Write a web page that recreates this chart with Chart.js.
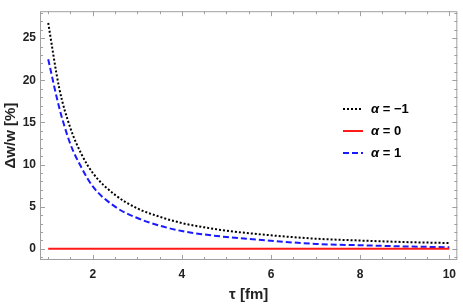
<!DOCTYPE html>
<html>
<head>
<meta charset="utf-8">
<script src="https://cdn.jsdelivr.net/npm/chart.js@4"></script>
<style>
  body { margin: 0; background: #fff; }
  #chart { display: block; }
</style>
</head>
<body>
<canvas id="chart" width="463" height="305"></canvas>
<script>
// tau values and the relative width change for each alpha
const TAU = [1, 1.25, 1.5, 1.75, 2, 2.5, 3, 3.5, 4, 4.5, 5, 6, 7, 8, 9, 10];
const ALPHA_M1 = [26.8, 19.0, 14.3, 11.2, 9.0, 6.4, 4.8, 3.8, 3.05, 2.55, 2.15, 1.6, 1.2, 0.98, 0.8, 0.68];
const ALPHA_0 = [0, 0, 0, 0, 0, 0, 0, 0, 0, 0, 0, 0, 0, 0, 0, 0];
const ALPHA_P1 = [22.5, 16.7, 12.4, 9.6, 7.4, 5.0, 3.65, 2.75, 2.1, 1.7, 1.4, 0.95, 0.58, 0.42, 0.28, 0.18];
const LABELS = ["α = −1", "α = 0", "α = 1"];

const X_TICKS = [2, 4, 6, 8, 10];
const Y_TICKS = [0, 5, 10, 15, 20, 25];

function pts(ys) {
  return TAU.map((t, i) => ({ x: t, y: ys[i] }));
}

// frame with inward ticks on all four sides (Mathematica style)
const framePlugin = {
  id: "frame",
  afterDatasetsDraw(chart) {
    const { ctx, chartArea: a, scales } = chart;
    const xs = scales.x, ys = scales.y;
    ctx.save();
    ctx.strokeStyle = "#a0a0a0";
    ctx.lineWidth = 1;
    ctx.strokeRect(a.left + 0.5, a.top + 0.5, a.right - a.left - 1, a.bottom - a.top - 1);
    ctx.beginPath();
    for (let v = 1; v <= 10.001; v += 0.5) {
      const px = Math.round(xs.getPixelForValue(v)) + 0.5;
      const len = X_TICKS.includes(v) ? 5 : 3;
      ctx.moveTo(px, a.bottom); ctx.lineTo(px, a.bottom - len);
      ctx.moveTo(px, a.top); ctx.lineTo(px, a.top + len);
    }
    for (let v = -1; v <= 28; v += 1) {
      const py = Math.round(ys.getPixelForValue(v)) + 0.5;
      const len = Y_TICKS.includes(v) ? 5 : 3;
      ctx.moveTo(a.left, py); ctx.lineTo(a.left + len, py);
      ctx.moveTo(a.right, py); ctx.lineTo(a.right - len, py);
    }
    ctx.stroke();
    ctx.restore();
  }
};

// legend drawn inside the plot
const legendPlugin = {
  id: "innerLegend",
  afterDraw(chart) {
    const ctx = chart.ctx;
    ctx.save();
    chart.data.datasets.forEach((ds, i) => {
      const y = 109 + i * 22;
      ctx.strokeStyle = ds.borderColor;
      ctx.lineWidth = ds.borderWidth;
      ctx.setLineDash(ds.borderDash || []);
      ctx.beginPath();
      ctx.moveTo(343, y);
      ctx.lineTo(363, y);
      ctx.stroke();
      ctx.setLineDash([]);
      ctx.fillStyle = "#000";
      ctx.textBaseline = "middle";
      ctx.font = "italic bold 13px 'Liberation Sans'";
      ctx.fillText("α", 371, y);
      const w = ctx.measureText("α").width;
      ctx.font = "bold 13px 'Liberation Sans'";
      ctx.fillText(ds.label.slice(1), 371 + w, y);
    });
    ctx.restore();
  }
};

new Chart(document.getElementById("chart"), {
  type: "line",
  data: {
    datasets: [
      { label: LABELS[0], data: pts(ALPHA_M1), borderColor: "#000000", borderWidth: 2, borderDash: [2, 2] },
      { label: LABELS[1], data: pts(ALPHA_0), borderColor: "#ff1a1a", borderWidth: 2 },
      { label: LABELS[2], data: pts(ALPHA_P1), borderColor: "#1a1aff", borderWidth: 2, borderDash: [6, 3] },
    ],
  },
  options: {
    responsive: false,
    animation: false,
    layout: { padding: { top: 0, right: 1, left: 0, bottom: 0 } },
    elements: {
      point: { radius: 0 },
      line: { cubicInterpolationMode: "monotone", fill: false },
    },
    plugins: { legend: { display: false }, tooltip: { enabled: false } },
    scales: {
      x: {
        type: "linear",
        min: 0.816,
        max: 10.18,
        afterBuildTicks: (s) => { s.ticks = X_TICKS.map((v) => ({ value: v })); },
        afterFit: (s) => { s.height = 45; },
        grid: { display: false, drawTicks: false },
        border: { display: false },
        ticks: { color: "#222", padding: 7, font: { family: "'Liberation Sans'", size: 12, weight: "bold" } },
        title: { display: true, text: "τ [fm]", color: "#222", padding: { top: 0, bottom: 1 }, font: { family: "'Liberation Sans'", size: 15, weight: "bold" } },
      },
      y: {
        min: -1.33,
        max: 28.2,
        afterBuildTicks: (s) => { s.ticks = Y_TICKS.map((v) => ({ value: v })); },
        afterFit: (s) => { s.width = 40; },
        grid: { display: false, drawTicks: false },
        border: { display: false },
        ticks: { color: "#222", padding: 4, font: { family: "'Liberation Sans'", size: 12, weight: "bold" } },
        title: { display: true, text: "Δw/w [%]", color: "#222", padding: { top: 2, bottom: 0 }, font: { family: "'Liberation Sans'", size: 15, weight: "bold" } },
      },
    },
  },
  plugins: [framePlugin, legendPlugin],
});
</script>
</body>
</html>
